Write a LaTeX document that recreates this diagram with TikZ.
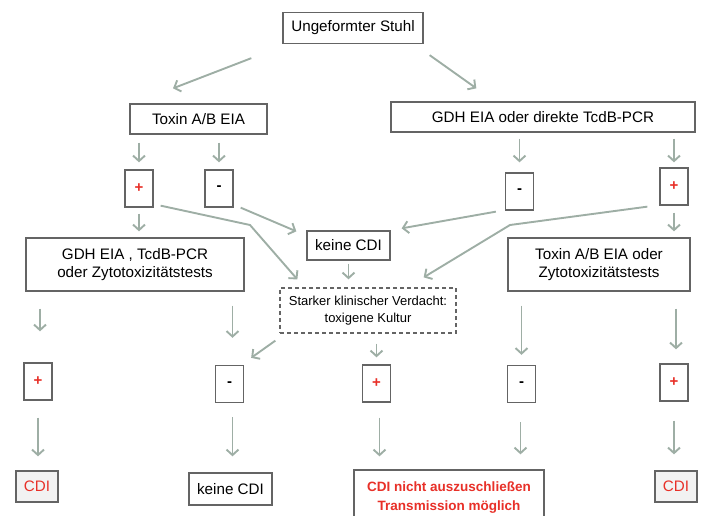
\documentclass[tikz,border=0pt]{standalone}
\usepackage{fontspec}
\setmainfont{Liberation Sans}
\usetikzlibrary{arrows.meta,positioning}
\definecolor{arrowgray}{RGB}{158,174,165}
\definecolor{boxgray}{RGB}{100,100,100}
\definecolor{alertred}{RGB}{232,48,40}
\definecolor{cdifill}{RGB}{242,242,242}

\begin{document}
\begin{tikzpicture}[x=1pt, y=-1pt,
    box/.style={rectangle, draw=boxgray, line width=1.3pt, fill=white, inner sep=0pt,
      align=center, font=\fontsize{15.2}{18}\selectfont},
    sign/.style={box, minimum width=28pt, minimum height=37pt, font=\fontsize{15}{18}\selectfont\bfseries},
    plus/.style={sign, text=alertred},
    minus/.style={sign},
    cdi/.style={box, fill=cdifill, text=alertred, minimum width=42pt, minimum height=31pt},
    suspect/.style={box, dash pattern=on 4pt off 3pt, font=\fontsize{13}{16.5}\selectfont},
    arr/.style={draw=arrowgray, line width=1.9pt, -{Straight Barb[length=5.5pt,width=12pt]}}
  ]
    \useasboundingbox (0,0) rectangle (705,516);

    % Top level
    \node[box, minimum width=140pt, minimum height=31pt] (stuhl) at (353,28) {Ungeformter Stuhl};
    \node[box, minimum width=137pt, minimum height=30pt] (toxin) at (198.5,119) {Toxin A/B EIA};
    \node[box, minimum width=304pt, minimum height=30pt] (gdh) at (543,117) {GDH EIA oder direkte TcdB-PCR};

    % First results
    \node[plus] (plusA) at (139,188.5) {+};
    \node[minus] (minusA) at (219,188.5) {-};
    \node[minus] (minusB) at (519.5,191.5) {-};
    \node[plus] (plusB) at (674,186.5) {+};

    % Second tests
    \node[box, minimum width=218pt, minimum height=53pt] (gdhtest) at (135,264.5) {GDH EIA , TcdB-PCR\\oder Zytotoxizitätstests};
    \node[box, minimum width=83pt, minimum height=29pt] (keineA) at (348.5,245.5) {keine CDI};
    \node[box, minimum width=182pt, minimum height=53pt] (toxtest) at (599,264.5) {Toxin A/B EIA oder\\Zytotoxizitätstests};
    \node[suspect, minimum width=176pt, minimum height=45pt] (kultur) at (368,310.5) {Starker klinischer Verdacht:\\toxigene Kultur};

    % Second results
    \node[plus] (plusC) at (38,381.5) {+};
    \node[minus] (minusC) at (229.5,384) {-};
    \node[plus] (plusD) at (376.5,383.5) {+};
    \node[minus] (minusD) at (521.5,384) {-};
    \node[plus] (plusE) at (674,382.5) {+};

    % Outcomes
    \node[cdi] (cdiA) at (37,486.5) {CDI};
    \node[box, minimum width=83pt, minimum height=32pt] (keineB) at (230.5,489) {keine CDI};
    \node[box, text=alertred, minimum width=190pt, minimum height=55pt,
      font=\fontsize{13.5}{18.5}\selectfont\bfseries] (offen) at (449,497.5) {CDI nicht auszuschließen\\Transmission möglich};
    \node[cdi] (cdiB) at (676,486.5) {CDI};

    % Bends
    \coordinate (bendA) at (250,225);
    \coordinate (bendB) at (510,225);

    % Arrows
    \draw[arr] ([shift={(-31,14)}]stuhl.south west) -- ([shift={(-25.5,-15)}]toxin.north);
    \draw[arr] ([shift={(6,11)}]stuhl.south east) -- ([shift={(86,-13)}]gdh.north west);

    \draw[arr, shorten <=8pt, shorten >=7pt] (plusA |- toxin.south) -- (plusA.north);
    \draw[arr, shorten <=8pt, shorten >=7pt] (minusA |- toxin.south) -- (minusA.north);
    \draw[arr, shorten <=6pt, shorten >=10pt] (minusB |- gdh.south) -- (minusB.north);
    \draw[arr, shorten <=6pt, shorten >=5pt] (plusB |- gdh.south) -- (plusB.north);

    \draw[arr, shorten <=6pt, shorten >=6pt] (plusA.south) -- (plusA |- gdhtest.north);
    \draw[arr, shorten <=7pt, shorten >=6pt] (plusB.south) -- (plusB |- toxtest.north);
    \draw[arr] ([shift={(7,0)}]minusA.south east) -- ([shift={(-10,1)}]keineA.north west);
    \draw[arr] ([shift={(-9,1)}]minusB.south west) -- ([shift={(11,-2)}]keineA.north east);
    \draw[arr] ([shift={(7,-2)}]plusA.south east) -- (bendA) -- ([shift={(18,-8)}]kultur.north west);
    \draw[arr] ([shift={(-12,1)}]plusB.south west) -- (bendB) -- ([shift={(-33,-10)}]kultur.north east);
    \draw[arr, shorten <=3pt, shorten >=8pt] (keineA.south) -- (keineA |- kultur.north);

    \draw[arr, shorten <=17pt, shorten >=31pt] ([xshift=2pt]plusC |- gdhtest.south) -- ([xshift=2pt]plusC.north);
    \draw[arr, shorten <=14pt, shorten >=27pt] ([xshift=3pt]minusC |- gdhtest.south) -- ([xshift=3pt]minusC.north);
    \draw[arr] ([shift={(-4,7)}]kultur.south west) -- ([shift={(7,-7)}]minusC.north east);
    \draw[arr, shorten <=10pt, shorten >=7pt] (plusD |- kultur.south) -- (plusD.north);
    \draw[arr, shorten <=14pt, shorten >=10pt] (minusD |- toxtest.south) -- (minusD.north);
    \draw[arr, shorten <=17pt, shorten >=14pt] ([xshift=2pt]plusE |- toxtest.south) -- ([xshift=2pt]plusE.north);

    \draw[arr, shorten <=17pt, shorten >=14pt] (plusC.south) -- (plusC |- cdiA.north);
    \draw[arr, shorten <=14pt, shorten >=16pt] ([xshift=3pt]minusC.south) -- ([xshift=3pt]minusC |- keineB.north);
    \draw[arr, shorten <=15pt, shorten >=13pt] ([xshift=3pt]plusD.south) -- ([xshift=3pt]plusD |- offen.north);
    \draw[arr, shorten <=19pt, shorten >=15pt] ([xshift=-1pt]minusD.south) -- ([xshift=-1pt]minusD |- offen.north);
    \draw[arr, shorten <=19pt, shorten >=16pt] (plusE.south) -- (plusE |- cdiB.north);
  \end{tikzpicture}
\end{document}
